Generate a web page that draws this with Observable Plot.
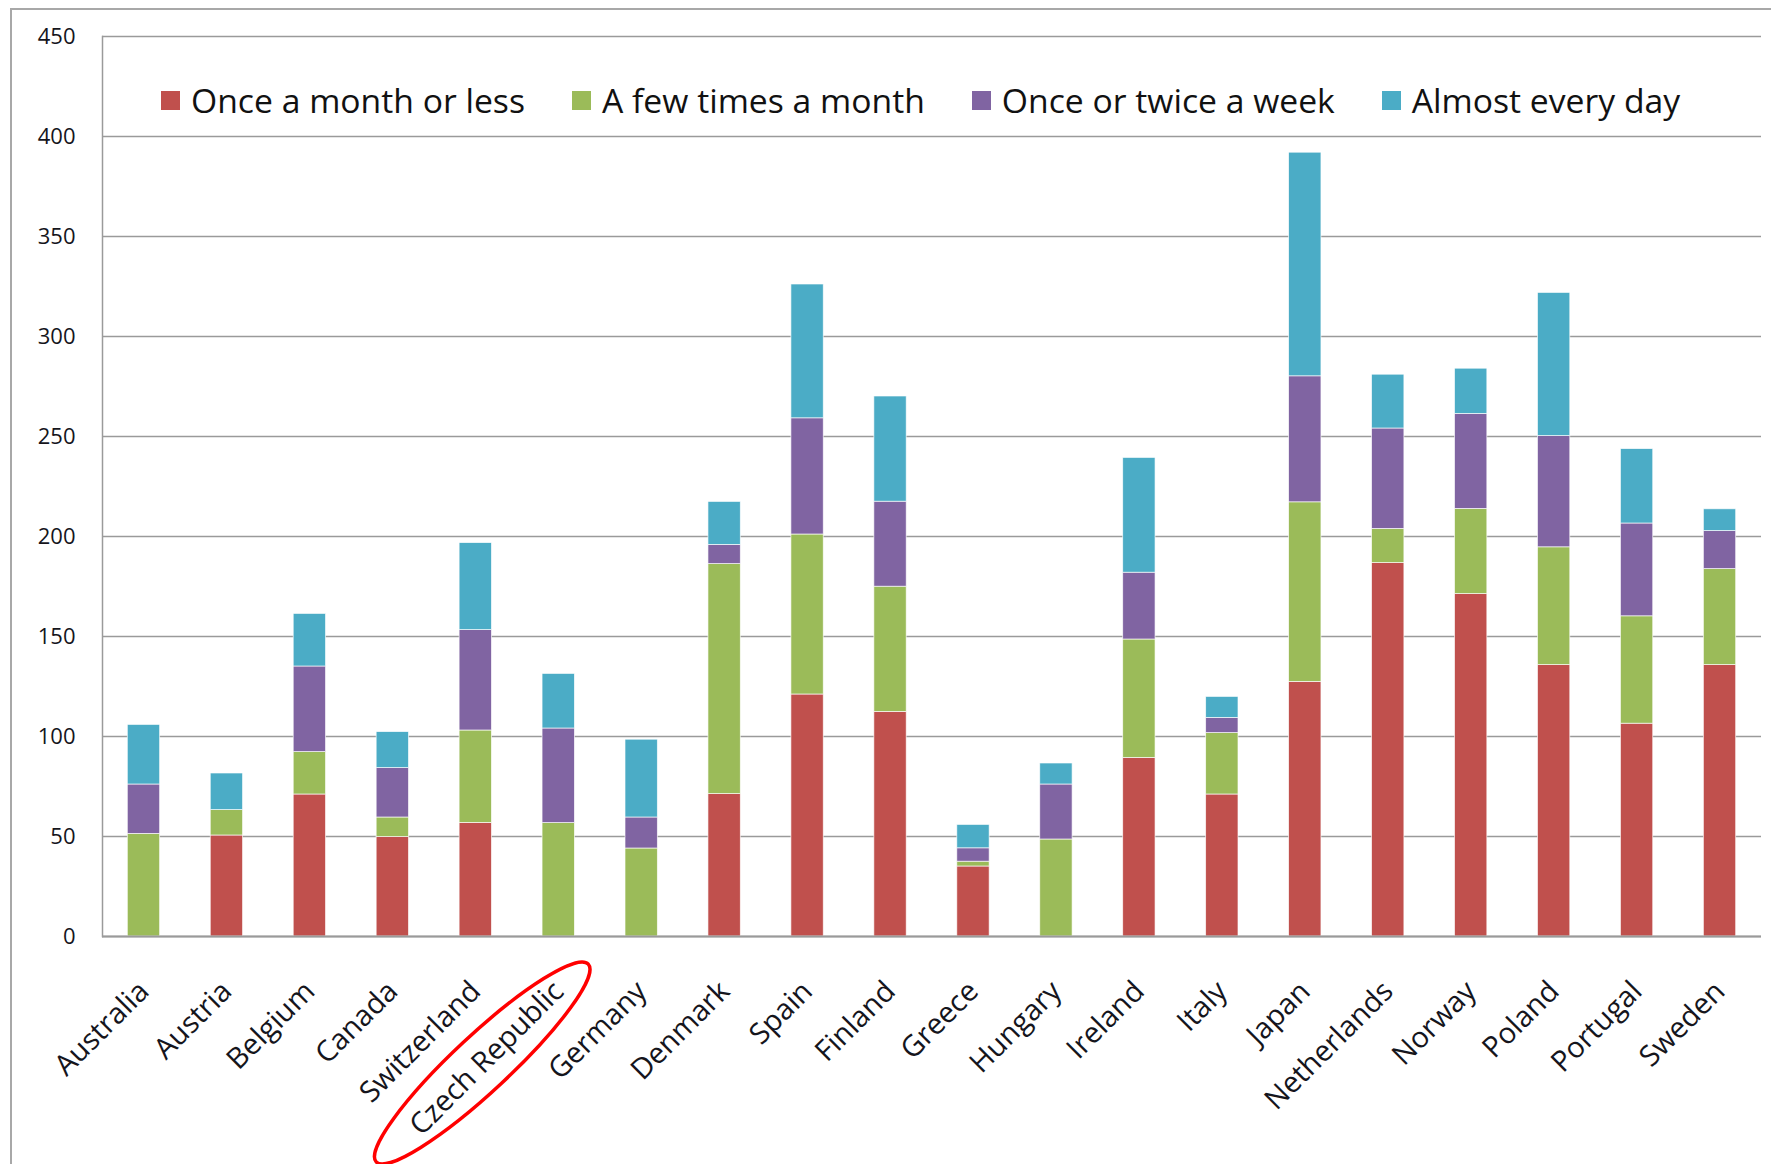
<!DOCTYPE html>
<html><head><meta charset="utf-8">
<script src="https://cdn.jsdelivr.net/npm/d3@7"></script>
<script src="https://cdn.jsdelivr.net/npm/@observablehq/plot@0.6"></script>
<style>
html,body{margin:0;padding:0;background:#fff;}
#wrap{position:relative;width:1771px;height:1164px;overflow:hidden;font-family:"Open Sans",sans-serif;}
#chart{position:absolute;left:0;top:0;}
#border{position:absolute;left:10px;top:8px;width:1800px;height:1200px;border-left:2px solid #a8a8a8;border-top:2px solid #a8a8a8;pointer-events:none;}
#legend{position:absolute;left:161px;top:80px;height:40px;display:flex;align-items:center;font-size:33.7px;color:#111;white-space:nowrap;}
.item{display:flex;align-items:center;margin-right:47px;}
.sw{width:19px;height:19px;margin-right:11px;flex:none;}
</style></head><body>
<div id="wrap"><div id="chart"></div><div id="legend"></div><div id="border"></div></div>
<script>
const countries = ["Australia","Austria","Belgium","Canada","Switzerland","Czech Republic","Germany","Denmark","Spain","Finland","Greece","Hungary","Ireland","Italy","Japan","Netherlands","Norway","Poland","Portugal","Sweden"];
const seriesNames = ["Once a month or less","A few times a month","Once or twice a week","Almost every day"];
const seriesColors = ["#C0504D","#9BBB59","#8064A2","#4BACC6"];
const onceMonthOrLess = [0, 50.5, 71, 49.7, 56.8, 0, 0, 71.2, 121, 112.3, 35, 0, 89.3, 71, 127.3, 186.7, 171.2, 135.7, 106.4, 135.7];
const fewTimesMonth   = [51.3, 12.7, 21.2, 9.8, 46.2, 56.7, 44, 115, 80, 62.6, 2.4, 48.5, 59.2, 30.7, 89.8, 17.1, 42.6, 58.9, 53.7, 48];
const onceTwiceWeek   = [24.7, 0, 42.8, 24.7, 50.2, 47.3, 15.5, 9.6, 58.1, 42.5, 6.7, 27.5, 33.4, 7.6, 63, 50.2, 47.5, 55.6, 46.4, 19];
const almostEveryDay  = [29.8, 18.3, 26.3, 18, 43.5, 27.3, 38.9, 21.5, 66.9, 52.6, 11.7, 10.5, 57.4, 10.5, 111.8, 26.9, 22.6, 71.6, 37.2, 10.9];
const yTicks = [0, 50, 100, 150, 200, 250, 300, 350, 400, 450];

const seriesValues = [onceMonthOrLess, fewTimesMonth, onceTwiceWeek, almostEveryDay];
const rows = [];
seriesNames.forEach((s, si) => countries.forEach((c, ci) => rows.push({country: c, series: s, value: seriesValues[si][ci]})));

const chart = Plot.plot({
  width: 1771, height: 1164,
  marginLeft: 102, marginRight: 10, marginTop: 36, marginBottom: 228,
  style: {fontFamily: "'Open Sans', sans-serif", background: "transparent", color: "#15151c"},
  x: {domain: countries, paddingInner: 0.61, paddingOuter: 0.305, round: false, label: null},
  y: {domain: [0, 450], label: null},
  color: {domain: seriesNames, range: seriesColors},
  marks: [
    Plot.gridY(yTicks, {stroke: "#9a9a9a", strokeOpacity: 1, strokeWidth: 1.5}),
    Plot.barY(rows, {x: "country", y: "value", fill: "series", stroke: "white", strokeWidth: 0.8, strokeOpacity: 0.8}),
    Plot.frame({anchor: "left", stroke: "#9a9a9a", strokeWidth: 1.5}),
    Plot.ruleY([0], {stroke: "#9a9a9a", strokeWidth: 2}),
    Plot.axisY(yTicks, {tickSize: 0, tickPadding: 27, fontSize: 22, label: null}),
    Plot.axisX({tickRotate: -45, tickSize: 0, tickPadding: 50, fontSize: 29, label: null})
  ]
});
document.getElementById("chart").appendChild(chart);

// red annotation ellipse around the Czech Republic label, positioned from the scales
const xs = chart.scale("x"), ys = chart.scale("y");
const cx = xs.apply("Czech Republic") + xs.bandwidth / 2 - 76;
const cy = ys.apply(0) + 127;
d3.select(chart).append("ellipse")
  .attr("cx", 0).attr("cy", 0).attr("rx", 145).attr("ry", 28)
  .attr("transform", `translate(${cx},${cy}) rotate(-43)`)
  .attr("fill", "none").attr("stroke", "#ff0000").attr("stroke-width", 3.5);

// legend
const lg = d3.select("#legend");
seriesNames.forEach((s, i) => {
  const it = lg.append("div").attr("class", "item");
  it.append("div").attr("class", "sw").style("background", seriesColors[i]);
  it.append("span").text(s);
});
</script>
</body></html>
